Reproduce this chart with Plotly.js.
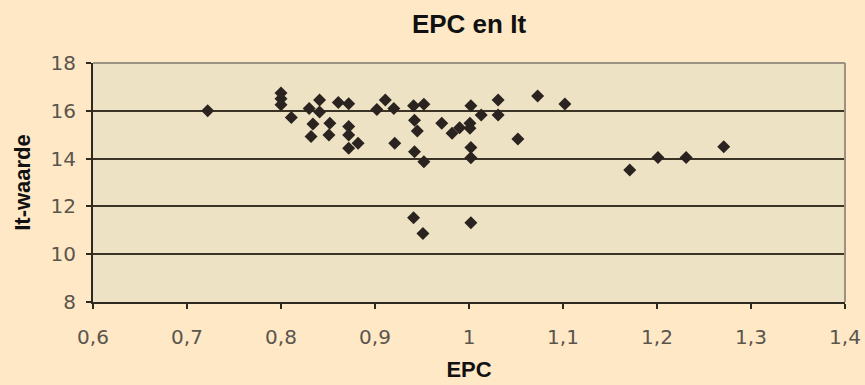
<!DOCTYPE html>
<html>
<head>
<meta charset="utf-8">
<script src="https://cdn.plot.ly/plotly-3.0.1.min.js"></script>
<style>
  html, body { margin: 0; padding: 0; background: #FEE8C6; }
  #chart { width: 865px; height: 385px; }
</style>
</head>
<body>
<div id="chart"></div>
<script>
// EPC values (x) and It-waarde values (y)
const epc = [
  0.722,
  0.800, 0.800, 0.800,
  0.811,
  0.830, 0.841, 0.841, 0.834, 0.852, 0.832, 0.851,
  0.861, 0.872, 0.872, 0.872, 0.872, 0.882,
  0.902, 0.911, 0.920, 0.921,
  0.941, 0.952, 0.942, 0.945, 0.942, 0.952, 0.941, 0.951,
  0.971, 0.982, 0.990, 1.001, 1.001, 1.002, 1.013, 1.002, 1.002, 1.002,
  1.031, 1.031, 1.052, 1.073, 1.102,
  1.171, 1.201, 1.231, 1.271
];
const itWaarde = [
  16.0,
  16.75, 16.5, 16.25,
  15.72,
  16.1, 16.45, 15.95, 15.45, 15.48, 14.92, 14.99,
  16.35, 16.3, 15.34, 14.99, 14.43, 14.64,
  16.05, 16.45, 16.1, 14.64,
  16.21, 16.27, 15.6, 15.15, 14.29, 13.87, 11.53, 10.87,
  15.48, 15.06, 15.29, 15.48, 15.27, 16.21, 15.82, 14.46, 14.04, 11.32,
  16.45, 15.82, 14.82, 16.62, 16.28,
  13.52, 14.05, 14.05, 14.5
];
const xTickVals = [0.6, 0.7, 0.8, 0.9, 1.0, 1.1, 1.2, 1.3, 1.4];
const xTickText = ['0,6', '0,7', '0,8', '0,9', '1', '1,1', '1,2', '1,3', '1,4'];
const yTickVals = [8, 10, 12, 14, 16, 18];
const yTickText = ['8', '10', '12', '14', '16', '18'];
const chartTitle = 'EPC en It';
const xTitle = 'EPC';
const yTitle = 'It-waarde';

const trace = {
  type: 'scatter',
  mode: 'markers',
  x: epc,
  y: itWaarde,
  marker: { symbol: 'diamond', size: 10, color: '#2a2320', line: { width: 0 } },
  hoverinfo: 'x+y'
};

const tickFont = { family: 'DejaVu Sans, sans-serif', size: 20, color: '#5a554d' };
const titleFont = { family: 'Liberation Sans, Arial, sans-serif', size: 22, color: '#111111' };

const layout = {
  width: 865,
  height: 385,
  paper_bgcolor: '#FEE8C6',
  plot_bgcolor: '#EEE2C4',
  margin: { l: 93, r: 20, t: 63, b: 83, pad: 0 },
  showlegend: false,
  title: {
    text: '<b>' + chartTitle + '</b>',
    font: { family: 'Liberation Sans, Arial, sans-serif', size: 26, color: '#111111' },
    x: 0.5, xref: 'paper', xanchor: 'center',
    y: 1 - 24 / 385, yref: 'container', yanchor: 'middle'
  },
  xaxis: {
    range: [0.6, 1.4],
    tickmode: 'array',
    tickvals: xTickVals,
    ticktext: xTickText,
    showgrid: false,
    zeroline: false,
    showline: true,
    linecolor: '#2e2a22',
    linewidth: 2,
    ticks: 'outside',
    ticklen: 5,
    tickwidth: 2,
    tickcolor: '#2e2a22',
    ticklabelstandoff: 11,
    tickfont: tickFont,
    fixedrange: true,
    title: { text: '<b>' + xTitle + '</b>', font: titleFont, standoff: 14 }
  },
  yaxis: {
    range: [8, 18],
    tickmode: 'array',
    tickvals: yTickVals,
    ticktext: yTickText,
    showgrid: true,
    gridcolor: '#3a3326',
    gridwidth: 2,
    zeroline: false,
    showline: true,
    linecolor: '#2e2a22',
    linewidth: 2,
    ticks: 'outside',
    ticklen: 5,
    tickwidth: 2,
    tickcolor: '#2e2a22',
    ticklabelstandoff: 6,
    tickfont: tickFont,
    fixedrange: true,
    title: { text: '<b>' + yTitle + '</b>', font: titleFont, standoff: 14 }
  },
  shapes: [
    { type: 'line', xref: 'paper', yref: 'paper', x0: 0, x1: 1, y0: 1, y1: 1,
      line: { color: '#9a9282', width: 2 }, layer: 'above' },
    { type: 'line', xref: 'paper', yref: 'paper', x0: 1, x1: 1, y0: 0, y1: 1,
      line: { color: '#9a9282', width: 2 }, layer: 'above' }
  ]
};

Plotly.newPlot('chart', [trace], layout, { displayModeBar: false, staticPlot: true });
</script>
</body>
</html>
